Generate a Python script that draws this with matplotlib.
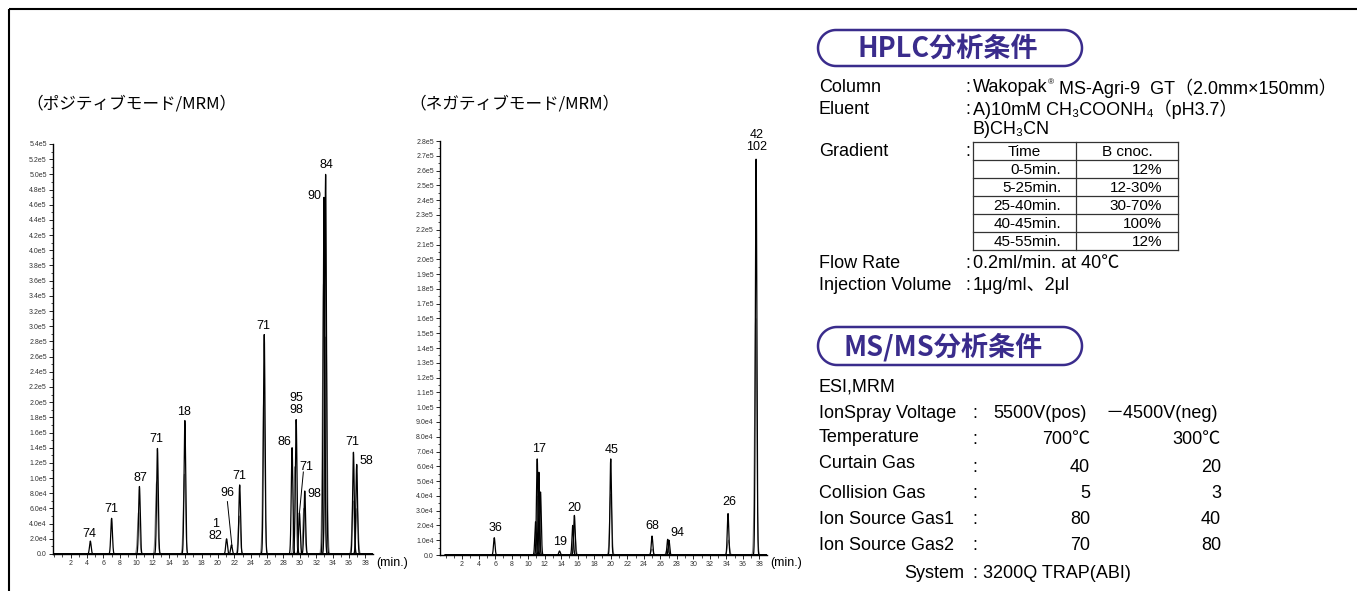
import numpy as np
import matplotlib
matplotlib.use('Agg')
import matplotlib.pyplot as plt
from matplotlib.patches import Polygon
from matplotlib.ticker import FuncFormatter, MultipleLocator

W, H = 1357, 591
FONT = ['Liberation Sans', 'Noto Sans CJK JP', 'DejaVu Sans']
JP = ['Noto Sans CJK JP', 'DejaVu Sans']
plt.rcParams['font.family'] = FONT
PURPLE = '#3a2c8c'

# ---------------- data ----------------
pos_title = '（ポジティブモード/MRM）'
neg_title = '（ネガティブモード/MRM）'

# positive mode peaks (retention time, min ; intensity)
pos_rt = [4.4, 7.0, 10.4, 12.6, 15.95, 21.05, 21.65, 22.65, 25.65, 29.05, 29.55,
          29.95, 30.6, 32.95, 33.15, 36.55, 36.95]
pos_height = [1.7e4, 4.7e4, 8.9e4, 1.39e5, 1.76e5, 2.0e4, 1.2e4, 9.1e4, 2.89e5,
              1.40e5, 1.77e5, 5.4e4, 8.3e4, 4.7e5, 5.0e5, 1.34e5, 1.18e5]
# secondary (grey) traces
pos_sub_rt = [10.3, 12.5, 15.9, 22.6, 25.6, 29.4, 30.5, 32.9, 33.2, 36.5, 37.0]
pos_sub_height = [5.5e4, 9.5e4, 1.05e5, 5.0e4, 2.07e5, 1.15e5, 6.0e4, 3.57e5, 2.86e5, 7.0e4, 6.0e4]

pos_labels = ['74', '71', '87', '71', '18', '1\n82', '96', '71', '71', '95\n98',
              '86', '71', '98', '90', '84', '71', '58']

# negative mode peaks
neg_rt = [5.9, 10.9, 11.1, 11.3, 11.5, 13.8, 15.4, 15.6, 20.0, 25.0, 26.9, 27.05,
          34.2, 37.6]
neg_height = [1.17e4, 2.25e4, 6.5e4, 5.6e4, 4.26e4, 2.7e3, 2.0e4, 2.68e4, 6.5e4,
              1.28e4, 1.06e4, 1.0e4, 2.8e4, 2.68e5]
neg_sub_rt = [11.2, 15.6, 20.0, 25.0, 26.85, 34.25, 37.55]
neg_sub_height = [4.0e4, 1.8e4, 4.1e4, 4.0e3, 4.0e3, 1.0e4, 1.6e5]

neg_labels = ['36', '17', '19', '20', '45', '68', '94', '26', '42\n102']

pos_yticks_max = 5.4e5
neg_yticks_max = 2.8e5
x_tick_labels = list(range(2, 39, 2))

hplc_title = 'HPLC分析条件'
ms_title = 'MS/MS分析条件'
hplc_items = ['Column', 'Eluent', 'Gradient', 'Flow Rate', 'Injection Volume']
hplc_values = ['Wakopak', 'MS-Agri-9  GT（2.0mm×150mm）',
               'A)10mM CH₃COONH₄（pH3.7）', 'B)CH₃CN',
               '0.2ml/min. at 40℃', '1μg/ml、2μl']
grad_header = ['Time', 'B cnoc.']
grad_time = ['0-5min.', '5-25min.', '25-40min.', '40-45min.', '45-55min.']
grad_conc = ['12%', '12-30%', '30-70%', '100%', '12%']

ms_items = ['IonSpray Voltage', 'Temperature', 'Curtain Gas', 'Collision Gas',
            'Ion Source Gas1', 'Ion Source Gas2']
ms_pos = ['5500V(pos)', '700℃', '40', '5', '80', '70']
ms_neg = ['－4500V(neg)', '300℃', '20', '3', '40', '80']
ms_first = 'ESI,MRM'
ms_system = ['System', '3200Q TRAP(ABI)']

# ---------------- layout ----------------
fig = plt.figure(figsize=(W / 100, H / 100), dpi=100)


def fr(x0, y_top, x1, y_bot):
    return [x0 / W, 1 - y_bot / H, (x1 - x0) / W, (y_bot - y_top) / H]


t = np.linspace(0, 39, 4000)


def peak(rt, h, s):
    return h * np.exp(-0.5 * ((t - rt) / s) ** 2)


def sci(v, pos=None):
    if v == 0:
        return '0.0'
    e = int(np.floor(np.log10(abs(v)) + 1e-9))
    m = v / 10 ** e
    return f'{m:.1f}e{e}'


def style_axes(ax, ymax, ystep, xlim):
    ax.set_xlim(*xlim)
    ax.set_ylim(0, ymax)
    for s in ['top', 'right']:
        ax.spines[s].set_visible(False)
    for s in ['left', 'bottom']:
        ax.spines[s].set_linewidth(1.0)
    ax.set_xticks(x_tick_labels)
    ax.xaxis.set_minor_locator(MultipleLocator(1))
    ax.set_yticks(np.arange(0, ymax + 1, ystep))
    ax.yaxis.set_minor_locator(MultipleLocator(ystep / 2))
    ax.yaxis.set_major_formatter(FuncFormatter(sci))
    ax.tick_params(axis='both', which='major', labelsize=5, length=3, width=0.6,
                   labelcolor='#333333', pad=1.5)
    ax.tick_params(axis='both', which='minor', length=1.8, width=0.5)
    ax.patch.set_alpha(0)


axL = fig.add_axes(fr(53, 144, 373, 554))
style_axes(axL, pos_yticks_max, 2e4, (-0.16, 38.94))
for rt, h in zip(pos_sub_rt, pos_sub_height):
    axL.plot(t, peak(rt, h, 0.13), color='#888888', lw=0.8)
for rt, h in zip(pos_rt, pos_height):
    axL.plot(t, peak(rt, h, 0.1), color='black', lw=0.9)

pos_label_xy = [(4.33, 2.63e4), (7.0, 5.9e4), (10.5, 1.0e5), (12.5, 1.52e5),
                (15.9, 1.87e5), (19.7, 3.1e4), (21.1, 8.1e4), (22.66, 1.03e5),
                (25.55, 3.0e5), (29.55, 1.97e5), (28.1, 1.48e5), (30.77, 1.15e5),
                (31.8, 7.9e4), (31.75, 4.72e5), (33.3, 5.12e5), (36.4, 1.47e5),
                (38.1, 1.22e5)]
for lab, (x, y) in zip(pos_labels, pos_label_xy):
    axL.text(x, y, lab, ha='center', va='center', fontsize=9, linespacing=1.0,
             clip_on=False)
axL.plot([21.15, 21.7], [6.9e4, 1.1e4], color='black', lw=0.7)
axL.plot([30.43, 29.95], [1.08e5, 5.4e4], color='black', lw=0.7)

axR = fig.add_axes(fr(440, 141, 767, 555))
style_axes(axR, neg_yticks_max, 1e4, (-0.67, 38.92))
for rt, h in zip(neg_sub_rt, neg_sub_height):
    axR.plot(t, peak(rt, h, 0.13), color='#888888', lw=0.8)
for rt, h in zip(neg_rt, neg_height):
    axR.plot(t, peak(rt, h, 0.09), color='black', lw=0.9)

neg_label_xy = [(6.0, 1.8e4), (11.3, 7.17e4), (13.9, 9.0e3), (15.6, 3.2e4),
                (20.1, 7.1e4), (25.0, 1.96e4), (28.1, 1.47e4), (34.3, 3.6e4),
                (37.7, 2.80e5)]
for lab, (x, y) in zip(neg_labels, neg_label_xy):
    axR.text(x, y, lab, ha='center', va='center', fontsize=9, linespacing=1.05,
             clip_on=False)

# ---------------- overlay (pixel coordinates) ----------------
ov = fig.add_axes([0, 0, 1, 1], zorder=10)
ov.set_xlim(0, W)
ov.set_ylim(H, 0)
ov.axis('off')
ov.patch.set_alpha(0)

# frame
ov.plot([9, W], [9, 9], color='black', lw=1.5, solid_capstyle='butt')
ov.plot([9, 9], [9, H], color='black', lw=1.5, solid_capstyle='butt')

ov.text(26, 104, pos_title, fontsize=12, family=JP, va='center', ha='left')
ov.text(409, 104, neg_title, fontsize=12, family=JP, va='center', ha='left')
ov.text(376, 563, '(min.)', fontsize=9, va='center', ha='left')
ov.text(770, 563, '(min.)', fontsize=9, va='center', ha='left')


def title_box(x0, y0, x1, y1, text, tx):
    r = (y1 - y0) / 2
    th = np.linspace(np.pi / 2, 3 * np.pi / 2, 40)
    xs_l = x0 + r + r * np.cos(th)
    ys_l = y0 + r - r * np.sin(th)
    th2 = np.linspace(-np.pi / 2, np.pi / 2, 40)
    xs_r = x1 - r + r * np.cos(th2)
    ys_r = y0 + r - r * np.sin(th2)
    pts = np.column_stack([np.concatenate([xs_l, xs_r]),
                           np.concatenate([ys_l, ys_r])])
    ov.add_patch(Polygon(pts, closed=True, fill=False, ec=PURPLE, lw=1.8,
                         joinstyle='round'))
    ov.text(tx, (y0 + y1) / 2 + 1, text, family=JP, fontsize=19.5, color=PURPLE,
            fontweight='bold', va='center', ha='left')


title_box(818, 30, 1082, 66, hplc_title, 857)
title_box(818, 327, 1082, 365, ms_title, 844)

FS = 13
LX, CX, VX = 819, 965, 973
# HPLC rows
ov.text(LX, 88, hplc_items[0], fontsize=FS, va='center')
ov.text(CX, 88, ':', fontsize=FS, va='center')
ov.text(VX, 88, hplc_values[0], fontsize=FS, va='center')
ov.text(1048, 83, '®', fontsize=6, va='center')
ov.text(1059, 88, hplc_values[1], fontsize=FS, va='center')

ov.text(LX, 109, hplc_items[1], fontsize=FS, va='center')
ov.text(CX, 109, ':', fontsize=FS, va='center')
ov.text(VX, 109, hplc_values[2], fontsize=FS, va='center')
ov.text(VX, 129, hplc_values[3], fontsize=FS, va='center')

ov.text(LX, 151, hplc_items[2], fontsize=FS, va='center')
ov.text(CX, 151, ':', fontsize=FS, va='center')

# gradient table
tx0, tx1, tmid = 973, 1178, 1076
rows_y = [142, 160, 178, 196, 214, 232, 250]
for yy in rows_y:
    ov.plot([tx0, tx1], [yy, yy], color='#333333', lw=0.9)
for xx in [tx0, tmid, tx1]:
    ov.plot([xx, xx], [rows_y[0], rows_y[-1]], color='#333333', lw=0.9)
FT = 11
ov.text((tx0 + tmid) / 2, 151.5, grad_header[0], fontsize=FT, ha='center', va='center')
ov.text((tmid + tx1) / 2, 151.5, grad_header[1], fontsize=FT, ha='center', va='center')
for i, (a, b) in enumerate(zip(grad_time, grad_conc)):
    yc = (rows_y[i + 1] + rows_y[i + 2]) / 2 + 0.5
    ov.text(1061, yc, a, fontsize=FT, ha='right', va='center')
    ov.text(1162, yc, b, fontsize=FT, ha='right', va='center')

ov.text(LX, 264, hplc_items[3], fontsize=FS, va='center')
ov.text(CX, 264, ':', fontsize=FS, va='center')
ov.text(VX, 264, hplc_values[4], fontsize=FS, va='center')
ov.text(LX, 286, hplc_items[4], fontsize=FS, va='center')
ov.text(CX, 286, ':', fontsize=FS, va='center')
ov.text(VX, 286, hplc_values[5], fontsize=FS, va='center')

# MS/MS rows
ov.text(LX, 387, ms_first, fontsize=FS, va='center')
lab_y = [414, 437, 463, 493, 519, 546]
val_y = [414, 440, 467, 493, 519, 546]
for i, name in enumerate(ms_items):
    ov.text(LX, lab_y[i], name, fontsize=FS, va='center')
    ov.text(972, val_y[i], ':', fontsize=FS, va='center')
    if i == 0:
        ov.text(993, val_y[i], ms_pos[i], fontsize=FS, va='center', ha='left')
        ov.text(1106, val_y[i], ms_neg[i], fontsize=FS, va='center', ha='left')
    else:
        ov.text(1090, val_y[i], ms_pos[i], fontsize=FS, va='center', ha='right')
        ov.text(1221, val_y[i], ms_neg[i], fontsize=FS, va='center', ha='right')
ov.text(904, 573, ms_system[0], fontsize=FS, va='center')
ov.text(972, 573, ':', fontsize=FS, va='center')
ov.text(983, 573, ms_system[1], fontsize=FS, va='center')

fig.savefig('out.png', dpi=100)
